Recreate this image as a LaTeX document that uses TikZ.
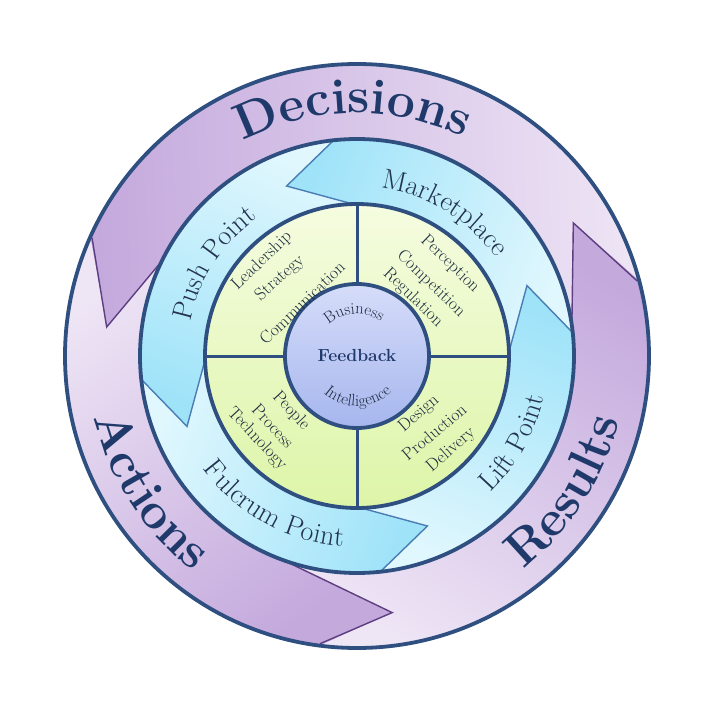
\documentclass[tikz,border=0pt]{standalone}
\usepackage{xcolor}
\usetikzlibrary{decorations.text}
\definecolor{ringnavy}{HTML}{2E4F80}
\definecolor{wordnavy}{HTML}{1F3A6A}
\definecolor{labelslate}{HTML}{22324F}
\definecolor{quadink}{HTML}{1F2D40}
\definecolor{lilacband}{HTML}{EBE0F2}
\definecolor{lilaclight}{HTML}{EEE5F5}
\definecolor{lilacdark}{HTML}{C4A9DD}
\definecolor{lilacedge}{HTML}{5C3F80}
\definecolor{cyanlight}{HTML}{E0F7FD}
\definecolor{cyandark}{HTML}{9FE3F9}
\definecolor{cyanedge}{HTML}{4A7DB4}
\definecolor{limetop}{HTML}{F5FCE0}
\definecolor{limebottom}{HTML}{DDF5A8}
\definecolor{hubtop}{HTML}{D6DDFA}
\definecolor{hubbottom}{HTML}{A6B6EE}

\newcommand{\bigword}{\fontsize{50}{50}\selectfont\bfseries\color{wordnavy}}
\newcommand{\ringword}{\fontsize{28}{28}\selectfont\color{labelslate}}
\newcommand{\hubword}{\fontsize{16.5}{16.5}\selectfont\color{quadink}}

\begin{document}
\begin{tikzpicture}[
  x=1pt,
  y=1pt,
  ring/.style={ringnavy, line width=3.8pt},
  divider/.style={ringnavy, line width=3pt},
  lilachead/.style={lilacedge, line width=1.4pt},
  cyanhead/.style={cyanedge, line width=1.4pt},
  quad/.style={font=\fontsize{17.5}{17.5}\selectfont, text=quadink, inner sep=0pt},
  arcword/.style={decorate,
                  decoration={text along path, text align=center, text={#1}}}
]
  % ---- picture frame, 709 x 707 with the centre of the rings as origin ----
  \useasboundingbox (-357,-351) rectangle (352,356);

  % ---- outer band with the three lilac arrows ----
  \fill[lilacband] (0,0) circle[radius=292pt];
  \shade[top color=lilacdark, bottom color=lilaclight, shading angle=92]
    (15:292) arc[start angle=15, end angle=156, radius=292pt]
    -- (173.4:252) -- (154:217)
    arc[start angle=154, end angle=8, radius=217pt]
    -- (31.6:254) -- cycle;
  \shade[top color=lilacdark, bottom color=lilaclight, shading angle=-142.6]
    (156:292) arc[start angle=156, end angle=262.7, radius=292pt]
    -- (277.8:259) -- (250:217)
    arc[start angle=250, end angle=154, radius=217pt]
    -- (173.4:252) -- cycle;
  \shade[top color=lilacdark, bottom color=lilaclight, shading angle=-32.5]
    (262.7:292) arc[start angle=262.7, end angle=375, radius=292pt]
    -- (391.6:254) -- (368:217)
    arc[start angle=368, end angle=250, radius=217pt]
    -- (277.8:259) -- cycle;
  \draw[lilachead] (156:290) -- (173.4:252) -- (154:217);
  \draw[lilachead] (262.7:290) -- (277.8:259) -- (250:217);
  \draw[lilachead] (15:290) -- (31.6:254) -- (8:217);
  \draw[ring] (0,0) circle[radius=292pt];

  % ---- middle ring with the four cyan arrows (tips every 90 degrees) ----
  \fill[cyanlight] (0,0) circle[radius=217pt];
  \foreach \t in {22.5,112.5,202.5,292.5} {
    \pgfmathsetmacro{\p}{\t-90}
    \pgfmathsetmacro{\ob}{\t-16}
    \pgfmathsetmacro{\ib}{\t-21}
    \pgfmathsetmacro{\pob}{\p-16}
    \pgfmathsetmacro{\pib}{\p-21}
    \pgfmathsetmacro{\sa}{\t-45}
    \shade[top color=cyandark, bottom color=cyanlight, shading angle=\sa]
      (\pob:217) arc[start angle=\pob, end angle=\ob, radius=217pt]
      -- (\t:184) -- (\ib:152)
      arc[start angle=\ib, end angle=\pib, radius=152pt]
      -- (\p:184) -- cycle;
  }
  \foreach \t in {22.5,112.5,202.5,292.5}
    \draw[cyanhead] ({\t-16}:216) -- (\t:184) -- ({\t-21}:152);
  \draw[ring] (0,0) circle[radius=217pt];

  % ---- quadrants and hub ----
  \shade[top color=limetop, bottom color=limebottom] (0,0) circle[radius=152pt];
  \draw[divider] (0,152) -- (0,-152);
  \draw[divider] (-152,0) -- (152,0);
  \shade[top color=hubtop, bottom color=hubbottom] (0,0) circle[radius=72pt];
  \draw[ring] (0,0) circle[radius=72pt];
  \draw[ring] (0,0) circle[radius=152pt];

  % ---- words on the outer band ----
  \path[arcword={|\bigword|Decisions}] (141:243) arc[start angle=141, end angle=41, radius=243pt];
  \path[arcword={|\bigword|Actions}] (173:270) arc[start angle=173, end angle=253, radius=270pt];
  \path[arcword={|\bigword|Results}] (287:270) arc[start angle=287, end angle=367, radius=270pt];

  % ---- words on the middle ring ----
  \path[arcword={|\ringword|Push Point}] (192:170) arc[start angle=192, end angle=102, radius=170pt];
  \path[arcword={|\ringword|Marketplace}] (104:170) arc[start angle=104, end angle=13, radius=170pt];
  \path[arcword={|\ringword|Lift Point}] (286:191) arc[start angle=286, end angle=376, radius=191pt];
  \path[arcword={|\ringword|Fulcrum Point}] (196:191) arc[start angle=196, end angle=286, radius=191pt];

  % ---- quadrant lists ----
  \node[quad, rotate=44]  (lead)  at (-95,95)  {Leadership};
  \node[quad, rotate=42]  (strat) at (-77,78)  {Strategy};
  \node[quad, rotate=44]  (comm)  at (-55,53)  {Communication};
  \node[quad, rotate=-44] (perc)  at (93,92)   {Perception};
  \node[quad, rotate=-44] (comp)  at (74,72)   {Competition};
  \node[quad, rotate=-44] (regu)  at (56,58)   {Regulation};
  \node[quad, rotate=-47] (peop)  at (-66,-55) {People};
  \node[quad, rotate=-47] (proc)  at (-84,-70) {Process};
  \node[quad, rotate=-47] (tech)  at (-100,-83) {Technology};
  \node[quad, rotate=41]  (desi)  at (62,-58)  {Design};
  \node[quad, rotate=40]  (prod)  at (77,-76)  {Production};
  \node[quad, rotate=41]  (deli)  at (94,-94)  {Delivery};

  % ---- hub ----
  \node[font=\fontsize{17.5}{17.5}\selectfont\bfseries, text=wordnavy] (feedback) at (0,1) {Feedback};
  \path[arcword={|\hubword|Business}] (164:42) arc[start angle=164, end angle=24, radius=42pt];
  \path[arcword={|\hubword|Intelligence}] (201:50) arc[start angle=201, end angle=341, radius=50pt];
\end{tikzpicture}
\end{document}
